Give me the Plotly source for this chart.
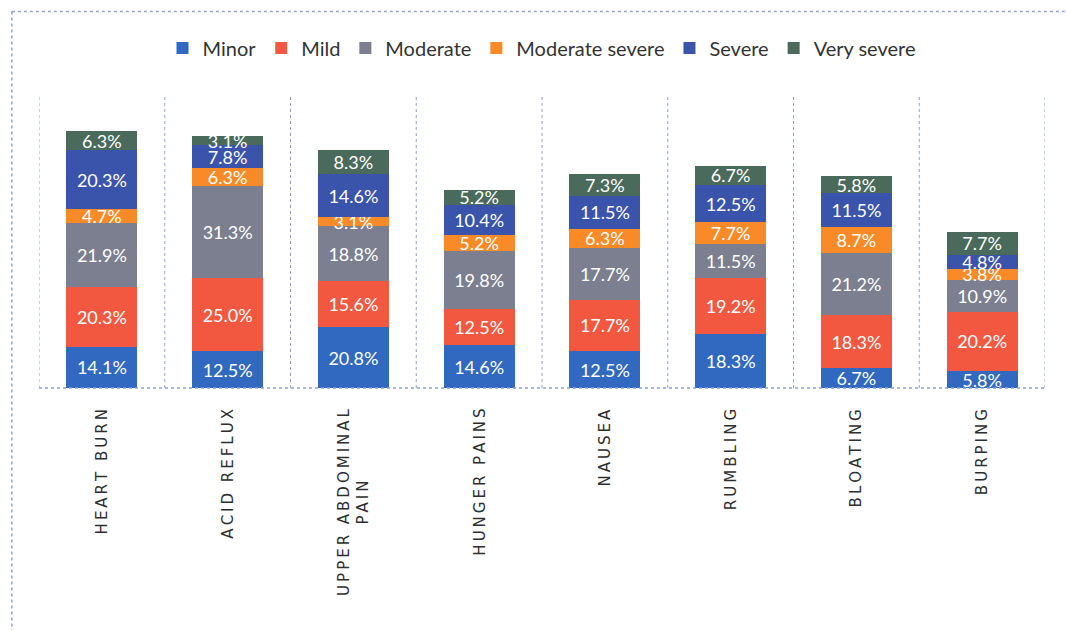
import plotly.graph_objects as go

categories = ["HEART BURN", "ACID REFLUX", "UPPER ABDOMINAL PAIN", "HUNGER PAINS",
              "NAUSEA", "RUMBLING", "BLOATING", "BURPING"]

minor = [14.1, 12.5, 20.8, 14.6, 12.5, 18.3, 6.7, 5.8]
mild = [20.3, 25.0, 15.6, 12.5, 17.7, 19.2, 18.3, 20.2]
moderate = [21.9, 31.3, 18.8, 19.8, 17.7, 11.5, 21.2, 10.9]
moderate_severe = [4.7, 6.3, 3.1, 5.2, 6.3, 7.7, 8.7, 3.8]
severe = [20.3, 7.8, 14.6, 10.4, 11.5, 12.5, 11.5, 4.8]
very_severe = [6.3, 3.1, 8.3, 5.2, 7.3, 6.7, 5.8, 7.7]

series = [
    ("Minor", minor, "#3169c0"),
    ("Mild", mild, "#f2573f"),
    ("Moderate", moderate, "#7b7f90"),
    ("Moderate severe", moderate_severe, "#f88a28"),
    ("Severe", severe, "#3a54ac"),
    ("Very severe", very_severe, "#4a6a5b"),
]

fig = go.Figure()
for name, vals, color in series:
    fig.add_trace(go.Bar(
        x=categories, y=vals, name=name,
        marker=dict(color=color, line=dict(width=0)),
        texttemplate="%{y:.1f}%", textposition="inside",
        insidetextanchor="middle",
        textfont=dict(color="white", size=18, family="Lato"),
        width=0.565,
    ))


def spaced(label):
    # widen the letter spacing of the category captions
    words = label.split(" ")
    return "\u2009\u00a0\u2009".join("\u2009".join(w) for w in words)


# category captions, rotated and centred under each bar
annotations = []
for cat in categories:
    if cat == "UPPER ABDOMINAL PAIN":
        txt = spaced("UPPER ABDOMINAL") + "<br>" + spaced("PAIN")
    else:
        txt = spaced(cat)
    annotations.append(dict(
        x=cat, xref="x", y=0, yref="paper", yanchor="top", xanchor="center",
        yshift=-19, text=txt, textangle=-90, showarrow=False, align="center",
        font=dict(family="DejaVu Sans", size=15, color="#2e2e2e"),
    ))

# dotted separators between the categories
shapes = []
for k in range(len(categories) + 1):
    shapes.append(dict(
        type="line", xref="x", yref="paper", x0=k - 0.5, x1=k - 0.5, y0=0, y1=1,
        line=dict(color="#8aa2d4", width=1, dash="dot"), layer="below",
    ))
# baseline
shapes.append(dict(
    type="line", xref="paper", yref="paper", x0=0, x1=1, y0=0, y1=0,
    line=dict(color="#8aa2d4", width=1.5, dash="dot"), layer="above",
))
# page frame
shapes.append(dict(
    type="line", xref="paper", yref="paper", x0=-0.027, x1=1.03, y0=1.285, y1=1.285,
    line=dict(color="#8aa2d4", width=1.5, dash="dot"),
))
shapes.append(dict(
    type="line", xref="paper", yref="paper", x0=-0.027, x1=-0.027, y0=1.285, y1=-0.83,
    line=dict(color="#8aa2d4", width=1.5, dash="dot"),
))

fig.update_layout(
    barmode="stack",
    width=1066, height=630,
    margin=dict(l=39, r=21, t=95, b=242),
    paper_bgcolor="white", plot_bgcolor="white",
    uniformtext=dict(minsize=18, mode="show"),
    showlegend=True,
    legend=dict(
        orientation="h", x=0.5, xanchor="center", y=1.16, yanchor="middle",
        font=dict(family="Lato", size=20, color="#333333"),
        traceorder="normal", itemwidth=30,
    ),
    xaxis=dict(showticklabels=False, showgrid=False, zeroline=False, showline=False,
               range=[-0.5, len(categories) - 0.5]),
    yaxis=dict(range=[0, 100], visible=False),
    shapes=shapes,
    annotations=annotations,
)

fig.write_html("out.html")
